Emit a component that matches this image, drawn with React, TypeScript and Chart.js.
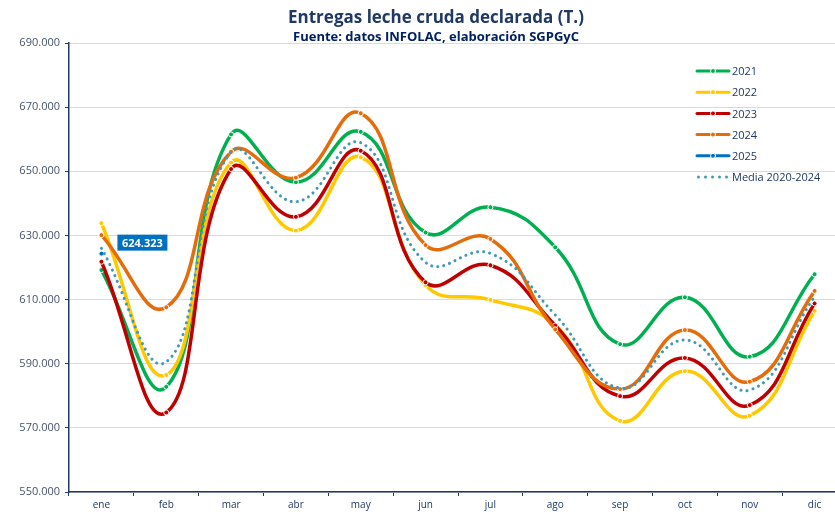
import React, { useEffect, useRef } from "react";
import { Chart, registerables } from "chart.js";

Chart.register(...registerables);

const MONTHS = ["ene", "feb", "mar", "abr", "may", "jun", "jul", "ago", "sep", "oct", "nov", "dic"];
const Y2021 = [619200, 582800, 661500, 646600, 662300, 630900, 638800, 626300, 596100, 610700, 592200, 617900];
const Y2022 = [633800, 586500, 652700, 631500, 654400, 614500, 609900, 602100, 572200, 587700, 573800, 606500];
const Y2023 = [621800, 574800, 650700, 635800, 656400, 615400, 620700, 601900, 579900, 591800, 577100, 608800];
const Y2024 = [630100, 607600, 656100, 648000, 668100, 627000, 628900, 600700, 582100, 600500, 584400, 612700];
const Y2025 = [624323, null, null, null, null, null, null, null, null, null, null, null];
const MEDIA = [626000, 590600, 656000, 640500, 658900, 621600, 624400, 605200, 582400, 597400, 581800, 610900];

const TITLE = "Entregas leche cruda declarada (T.)";
const SUBTITLE = "Fuente: datos INFOLAC, elaboración SGPGyC";
const LABEL_2025 = "624.323";

const C2021 = "#00B050";
const C2022 = "#FFC800";
const C2023 = "#C00000";
const C2024 = "#E46C0A";
const C2025 = "#0070C0";
const CMEDIA = "#3E9AB6";
const NAVY = "#1F3864";
const FONT = "'Open Sans', 'DejaVu Sans', sans-serif";

function fmt(v: number): string {
  const s = Math.round(v).toString();
  return s.replace(/\B(?=(\d{3})+(?!\d))/g, ".");
}

const legendItems = [
  { label: "2021", color: C2021, dotted: false },
  { label: "2022", color: C2022, dotted: false },
  { label: "2023", color: C2023, dotted: false },
  { label: "2024", color: C2024, dotted: false },
  { label: "2025", color: C2025, dotted: false },
  { label: "Media 2020-2024", color: CMEDIA, dotted: true },
];

const decorPlugin = {
  id: "decor",
  afterDraw(chart: any) {
    const ctx = chart.ctx;
    ctx.save();
    // Titles
    ctx.textAlign = "center";
    ctx.textBaseline = "middle";
    ctx.fillStyle = NAVY;
    ctx.font = `bold 17px ${FONT}`;
    ctx.fillText(TITLE, 436, 18);
    ctx.fillStyle = "#002060";
    ctx.font = `bold 13px ${FONT}`;
    ctx.fillText(SUBTITLE, 436, 37);

    // Legend
    const x0 = 697;
    const x1 = 729;
    let y = 71;
    ctx.textAlign = "left";
    ctx.font = `11px ${FONT}`;
    for (const it of legendItems) {
      if (it.dotted) {
        ctx.fillStyle = it.color;
        for (let i = 0; i < 5; i++) {
          ctx.beginPath();
          ctx.arc(x0 + 1.5 + i * 7, y, 1.5, 0, Math.PI * 2);
          ctx.fill();
        }
      } else {
        ctx.strokeStyle = it.color;
        ctx.lineWidth = 3;
        ctx.lineCap = "round";
        ctx.beginPath();
        ctx.moveTo(x0, y);
        ctx.lineTo(x1, y);
        ctx.stroke();
        ctx.fillStyle = it.color;
        ctx.strokeStyle = "#ffffff";
        ctx.lineWidth = 1;
        ctx.beginPath();
        ctx.arc((x0 + x1) / 2, y, 2.5, 0, Math.PI * 2);
        ctx.fill();
        ctx.stroke();
      }
      ctx.fillStyle = NAVY;
      ctx.fillText(it.label, 732, y + 1);
      y += 21.2;
    }

    // Data label for 2025
    const meta = chart.getDatasetMeta(4);
    const pt = meta && meta.data && meta.data[0];
    if (pt) {
      const bx = pt.x + 16;
      const by = pt.y - 19;
      const bw = 50;
      const bh = 16;
      ctx.fillStyle = C2025;
      ctx.fillRect(bx, by, bw, bh);
      ctx.fillStyle = "#ffffff";
      ctx.font = `bold 11px ${FONT}`;
      ctx.textAlign = "center";
      ctx.fillText(LABEL_2025, bx + bw / 2, by + bh / 2 + 1);
    }
    ctx.restore();
  },
};

function lineDs(label: string, data: (number | null)[], color: string, order: number) {
  return {
    label,
    data,
    borderColor: color,
    backgroundColor: color,
    borderWidth: 3.5,
    pointRadius: 2.5,
    pointBorderWidth: 1,
    pointBorderColor: "#ffffff",
    pointBackgroundColor: color,
    tension: 0.45,
    fill: false,
    order,
  };
}

export default function App() {
  const ref = useRef<HTMLCanvasElement | null>(null);
  useEffect(() => {
    if (!ref.current) return;
    const chart = new Chart(ref.current, {
      type: "line",
      data: {
        labels: MONTHS,
        datasets: [
          lineDs("2021", Y2021, C2021, 6),
          lineDs("2022", Y2022, C2022, 5),
          lineDs("2023", Y2023, C2023, 4),
          lineDs("2024", Y2024, C2024, 3),
          lineDs("2025", Y2025, C2025, 2),
          {
            label: "Media 2020-2024",
            data: MEDIA,
            borderColor: CMEDIA,
            backgroundColor: CMEDIA,
            borderWidth: 3,
            borderDash: [0.1, 6],
            borderCapStyle: "round",
            pointRadius: 0,
            tension: 0.45,
            fill: false,
            order: 1,
          } as any,
        ],
      },
      options: {
        responsive: false,
        animation: false,
        devicePixelRatio: 1,
        layout: { padding: { top: 43, right: 13, left: 0, bottom: 0 } },
        plugins: {
          legend: { display: false },
          title: { display: false },
          tooltip: { enabled: false },
        },
        scales: {
          x: {
            type: "category",
            offset: true,
            afterFit: (s: any) => {
              s.height = 20;
            },
            grid: {
              offset: true,
              drawOnChartArea: false,
              drawTicks: true,
              tickLength: 4,
              tickColor: NAVY,
            },
            border: { color: NAVY, width: 1.5 },
            ticks: {
              color: NAVY,
              font: { family: FONT, size: 10 },
              padding: 3,
              maxRotation: 0,
              autoSkip: false,
            },
          },
          y: {
            min: 550000,
            max: 690000,
            afterFit: (s: any) => {
              s.width = 69;
            },
            grid: {
              color: "#D9D9E1",
              lineWidth: 1,
              tickLength: 4,
              tickColor: NAVY,
            },
            border: { color: NAVY, width: 1.5 },
            ticks: {
              stepSize: 20000,
              color: "#44546A",
              font: { family: FONT, size: 11 },
              padding: 5,
              callback: (v: any) => fmt(Number(v)),
            },
          },
        },
      },
      plugins: [decorPlugin],
    });
    return () => chart.destroy();
  }, []);

  return (
    <div
      style={{
        position: "absolute",
        left: 0,
        top: 0,
        width: 835,
        height: 512,
        overflow: "hidden",
        background: "#ffffff",
      }}
    >
      <canvas ref={ref} width={860} height={512} style={{ display: "block" }} />
    </div>
  );
}
